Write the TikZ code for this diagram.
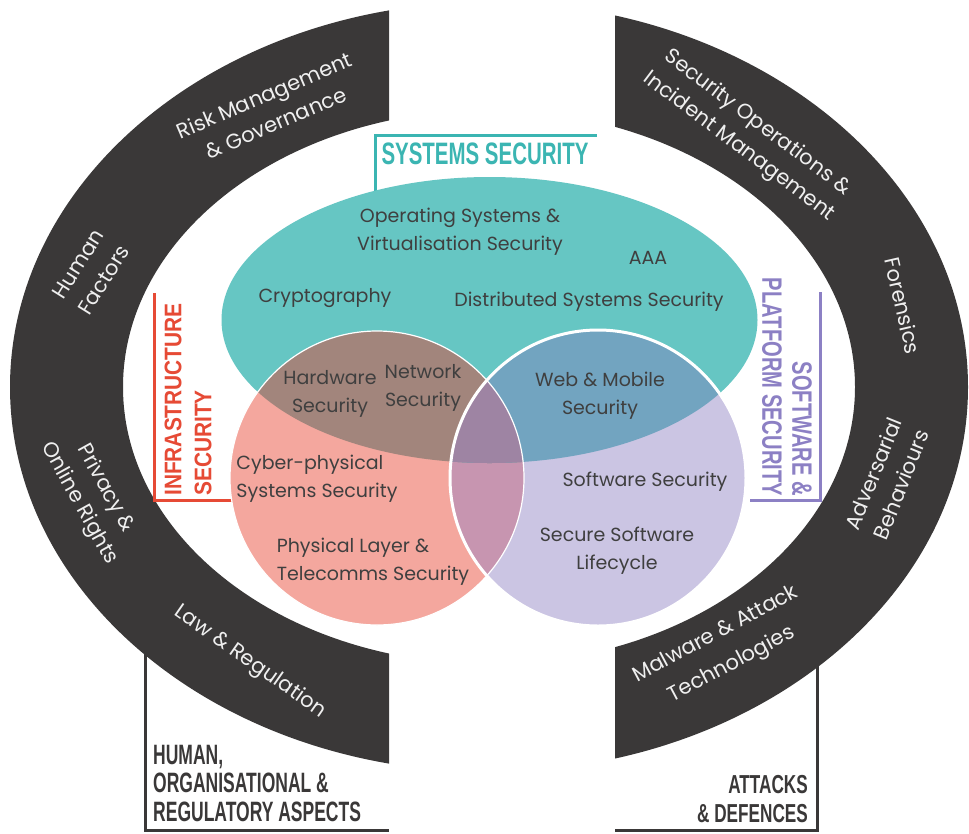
\documentclass[tikz,border=0pt]{standalone}
\usepackage{fontspec}
\usepackage{graphicx}
\setmainfont{Poppins}
\newfontfamily\lblfont{Liberation Sans}
\newcommand{\cnd}[2]{\scalebox{#1}[1]{#2}}
\definecolor{bandc}{HTML}{3A3838}
\definecolor{tealc}{HTML}{66C6C3}
\definecolor{pinkc}{HTML}{F4A79E}
\definecolor{lavc}{HTML}{CBC5E3}
\definecolor{brownc}{HTML}{A2857C}
\definecolor{bluec}{HTML}{72A4C0}
\definecolor{mauvec}{HTML}{C795B0}
\definecolor{triplec}{HTML}{9E84A3}
\definecolor{tealtxt}{HTML}{3BB5B2}
\definecolor{redtxt}{HTML}{E64A35}
\definecolor{purtxt}{HTML}{8C80C4}
\definecolor{venntxt}{HTML}{3F3F3F}
\definecolor{arctxt}{HTML}{EFEFEF}
\tikzset{
  arctext/.style={text=arctxt, font=\fontsize{21}{30}\selectfont, align=center, inner sep=0pt},
  venntext/.style={text=venntxt, font=\fontsize{19}{28}\selectfont, align=center, inner sep=0pt},
  boxline/.style={draw=bandc, line width=3pt},
  lbl/.style={font=\lblfont\bfseries, inner sep=0pt},
}
\begin{document}
\begin{tikzpicture}[x=1pt,y=-1pt]
\useasboundingbox (0,0) rectangle (969,833);
\fill[white] (0,0) rectangle (969,833);

% bottom frames
\draw[boxline] (145,600) -- (145,830) -- (389,830);
\draw[boxline] (817,600) -- (817,830) -- (615,830);

% bands
\begin{scope}
\clip (0,0) rectangle (389,833);
\fill[bandc, even odd rule] (489,387) ellipse [x radius=479, y radius=385]
  (489,387) ellipse [x radius=366, y radius=277];
\end{scope}
\begin{scope}
\clip (615,0) rectangle (969,833);
\fill[bandc, even odd rule] (489,387) ellipse [x radius=479, y radius=385]
  (489,387) ellipse [x radius=366, y radius=277];
\end{scope}

% band texts
\node[arctext, rotate=23] (rm) at (270,109) {Risk Management\\\& Governance};
\node[arctext, rotate=58] (hf) at (91,272) {Human\\Factors};
\node[arctext, rotate=-61] (pr) at (92,496) {Privacy \&\\Online Rights};
\node[arctext, rotate=-35] (lr) at (250,662) {Law \& Regulation};
\node[arctext, rotate=-37] (so) at (748,135) {Security Operations \&\\Incident Management};
\node[arctext, rotate=-77] (fo) at (903,306) {Forensics};
\node[arctext, rotate=68] (ad) at (887,479) {Adversarial\\Behaviours};
\node[arctext, rotate=28, font=\fontsize{21}{34}\selectfont] (mw) at (724,650) {Malware \& Attack\\Technologies};

% bottom labels
\node[lbl, text=bandc, anchor=north west, align=left, font=\lblfont\bfseries\fontsize{28}{28.5}\selectfont] (hum) at (153,745)
  {\cnd{0.625}{HUMAN,}\\\cnd{0.625}{ORGANISATIONAL \&}\\\cnd{0.625}{REGULATORY ASPECTS}};
\node[lbl, text=bandc, anchor=north east, align=right, font=\lblfont\bfseries\fontsize{26}{29}\selectfont] (att) at (808,775)
  {\cnd{0.66}{ATTACKS}\\\cnd{0.66}{\& DEFENCES}};

% label frames
\draw[draw=tealtxt, line width=3pt] (375,200) -- (375,135) -- (597,135);
\draw[draw=redtxt, line width=3pt] (154,293) -- (154,500) -- (240,500);
\draw[draw=purtxt, line width=3pt] (820,292) -- (820,500) -- (750,500);

% Venn
\fill[tealc] (489.5,320) ellipse [x radius=268, y radius=143];
\fill[pinkc] (377,478) circle [radius=147];
\fill[lavc] (598,478) circle [radius=148];
\begin{scope}
\clip (377,478) circle [radius=147];
\fill[mauvec] (598,478) circle [radius=148];
\end{scope}
\begin{scope}
\clip (489.5,320) ellipse [x radius=268, y radius=143];
\fill[brownc] (377,478) circle [radius=147];
\fill[bluec] (598,478) circle [radius=148];
\clip (377,478) circle [radius=147];
\fill[triplec] (598,478) circle [radius=148];
\end{scope}
\draw[white, line width=1.2pt] (377,478) circle [radius=147];
\draw[white, line width=3pt] (598,478) circle [radius=148];

% group labels
\node[lbl, text=tealtxt, font=\lblfont\bfseries\fontsize{31}{31}\selectfont] (sys) at (485,154) {\cnd{0.66}{SYSTEMS SECURITY}};
\node[lbl, text=redtxt, rotate=90, align=left, font=\lblfont\bfseries\fontsize{24}{30}\selectfont] (inf) at (188,399.5)
  {\cnd{0.87}{INFRASTRUCTURE}\\\cnd{0.87}{SECURITY}};
\node[lbl, text=purtxt, rotate=-90, align=right, font=\lblfont\bfseries\fontsize{28}{30}\selectfont] (sw) at (787,387)
  {\cnd{0.72}{SOFTWARE \&}\\\cnd{0.72}{PLATFORM SECURITY}};

% Venn texts
\node[venntext] (os) at (460,232) {Operating Systems \&\\Virtualisation Security};
\node[venntext] (aaa) at (648,258) {AAA};
\node[venntext] (cr) at (325,298) {Cryptography};
\node[venntext] (ds) at (589,302) {Distributed Systems Security};
\node[venntext] (hw) at (330,394) {Hardware\\Security};
\node[venntext] (nw) at (423,388) {Network\\Security};
\node[venntext] (wm) at (600,396) {Web \& Mobile\\Security};
\node[venntext, align=left] (cp) at (317,479) {Cyber-physical\\Systems Security};
\node[venntext, align=left] (pl) at (373,562) {Physical Layer \&\\Telecomms Security};
\node[venntext] (ss) at (645,482) {Software Security};
\node[venntext] (sl) at (617,551) {Secure Software\\Lifecycle};
\end{tikzpicture}
\end{document}
